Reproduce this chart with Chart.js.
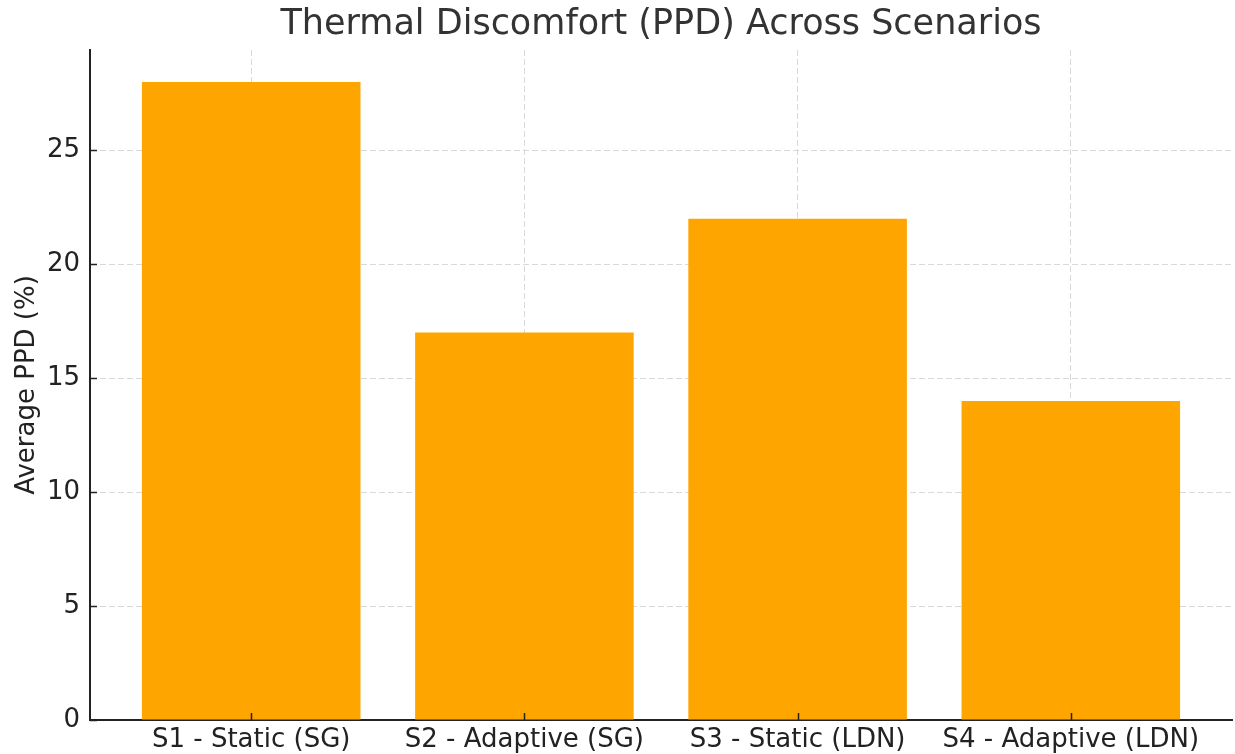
<!DOCTYPE html>
<html>
<head>
<meta charset="utf-8">
<script src="https://cdn.jsdelivr.net/npm/chart.js@4.4.1/dist/chart.umd.min.js"></script>
<style>
  html, body { margin: 0; padding: 0; background: #fff; }
</style>
</head>
<body>
<canvas id="chart" width="1235" height="754"></canvas>
<script>
// data
const scenarios = ['S1 - Static (SG)', 'S2 - Adaptive (SG)', 'S3 - Static (LDN)', 'S4 - Adaptive (LDN)'];
const avgPPD = [28, 17, 22, 14];
const yTicks = [0, 5, 10, 15, 20, 25];
const chartTitle = 'Thermal Discomfort (PPD) Across Scenarios';

const FONT = 'DejaVu Sans';

// matplotlib style inward tick marks + title centred over the plot area
const mplExtras = {
  id: 'mplExtras',
  afterDraw(chart) {
    const { ctx, chartArea, scales } = chart;
    ctx.save();
    ctx.strokeStyle = '#222';
    ctx.lineWidth = 1.5;
    ctx.beginPath();
    yTicks.forEach(v => {
      const y = Math.round(scales.y.getPixelForValue(v)) + 0.5;
      ctx.moveTo(chartArea.left, y);
      ctx.lineTo(chartArea.left + 7, y);
    });
    scenarios.forEach((s, i) => {
      const x = Math.round(scales.x.getPixelForValue(i)) + 0.5;
      ctx.moveTo(x, chartArea.bottom);
      ctx.lineTo(x, chartArea.bottom - 7);
    });
    ctx.stroke();

    ctx.fillStyle = '#333';
    ctx.font = '35px "' + FONT + '"';
    ctx.textAlign = 'center';
    ctx.textBaseline = 'middle';
    ctx.fillText(chartTitle, (chartArea.left + chartArea.right) / 2, 25);
    ctx.restore();
  }
};

const ctx = document.getElementById('chart').getContext('2d');
new Chart(ctx, {
  type: 'bar',
  data: {
    datasets: [{
      label: 'Average PPD (%)',
      data: avgPPD.map((v, i) => ({ x: i, y: v })),
      backgroundColor: '#FFA500',
      borderWidth: 0,
      categoryPercentage: 0.8,
      barPercentage: 1.0
    }]
  },
  plugins: [mplExtras],
  options: {
    responsive: false,
    animation: false,
    layout: { padding: { top: 50, right: 3, bottom: 0, left: 0 } },
    scales: {
      x: {
        type: 'linear',
        min: -0.59,
        max: 3.59,
        offset: false,
        z: 1,
        afterBuildTicks: scale => { scale.ticks = scenarios.map((s, i) => ({ value: i })); },
        afterFit: scale => { scale.height = 34; },
        ticks: {
          autoSkip: false,
          maxRotation: 0,
          padding: 5,
          color: '#222',
          font: { family: FONT, size: 26 },
          callback: v => scenarios[v]
        },
        grid: {
          offset: false,
          color: '#d9d9d9',
          lineWidth: 1,
          drawTicks: false
        },
        border: { display: true, color: '#222', width: 2, dash: [6, 3] }
      },
      y: {
        min: 0,
        max: 29.4,
        z: 1,
        afterBuildTicks: scale => { scale.ticks = yTicks.map(v => ({ value: v })); },
        afterFit: scale => { scale.width = 90; },
        ticks: {
          padding: 10,
          color: '#222',
          font: { family: FONT, size: 26 }
        },
        grid: {
          color: '#d9d9d9',
          lineWidth: 1,
          drawTicks: false
        },
        border: { display: true, color: '#222', width: 2, dash: [6, 3] },
        title: {
          display: true,
          text: 'Average PPD (%)',
          color: '#222',
          font: { family: FONT, size: 26 },
          padding: { top: 12, bottom: 0 }
        }
      }
    },
    plugins: {
      legend: { display: false },
      tooltip: { enabled: false },
      title: { display: false }
    }
  }
});
</script>
</body>
</html>
